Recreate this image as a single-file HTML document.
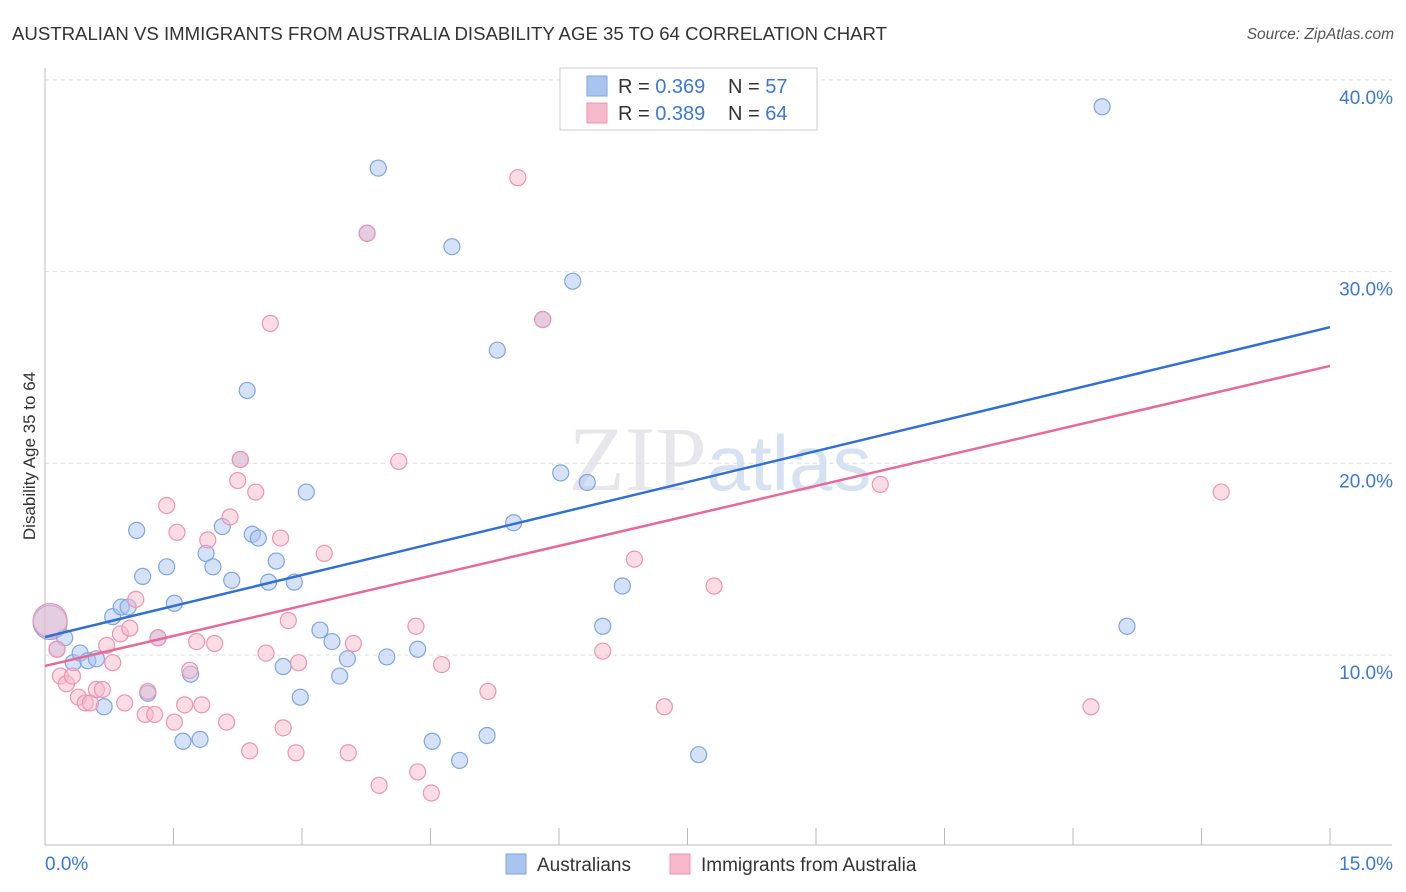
<!DOCTYPE html>
<html><head><meta charset="utf-8"><style>
body{margin:0;background:#fff;font-family:"Liberation Sans",sans-serif;}
#c{position:relative;width:1406px;height:892px;overflow:hidden}
</style></head><body>
<div id="c">
<svg id="s" width="1406" height="892" xmlns="http://www.w3.org/2000/svg">
<text x="12" y="40" font-size="18" fill="#333" textLength="875" lengthAdjust="spacingAndGlyphs">AUSTRALIAN VS IMMIGRANTS FROM AUSTRALIA DISABILITY AGE 35 TO 64 CORRELATION CHART</text>
<text x="1394" y="39" font-size="15.5" fill="#555" font-style="italic" text-anchor="end">Source: ZipAtlas.com</text>
<text x="35" y="456" font-size="17" fill="#333" text-anchor="middle" transform="rotate(-90 35 456)">Disability Age 35 to 64</text>
<text x="720" y="490" font-size="92" fill="#e6e6ec" font-family="Liberation Serif" text-anchor="middle">ZIP<tspan fill="#d6e2f2" font-family="Liberation Sans" font-size="78">atlas</tspan></text>
<g id="grid"></g><g id="axes"></g><g id="pts"></g><g id="lines"></g>
<g>
<rect x="560" y="68" width="257" height="62" fill="#fff" stroke="#ccc"/>
<rect x="587" y="76" width="20" height="20" fill="#a9c4ee" stroke="#7ea6e0"/>
<rect x="587" y="103" width="20" height="20" fill="#f6b9cc" stroke="#ee93b1"/>
<text x="618" y="93" font-size="20" fill="#333">R = <tspan fill="#3a78d8">0.369</tspan></text>
<text x="728" y="93" font-size="20" fill="#333">N = <tspan fill="#3a78d8">57</tspan></text>
<text x="618" y="120" font-size="20" fill="#333">R = <tspan fill="#3a78d8">0.389</tspan></text>
<text x="728" y="120" font-size="20" fill="#333">N = <tspan fill="#3a78d8">64</tspan></text>
</g>
<g>
<rect x="506" y="854" width="20" height="20" fill="#a9c4ee" stroke="#7ea6e0"/>
<text x="537" y="871" font-size="19" fill="#333">Australians</text>
<rect x="670" y="854" width="20" height="20" fill="#f6b9cc" stroke="#ee93b1"/>
<text x="701" y="871" font-size="19" fill="#333">Immigrants from Australia</text>
</g>
</svg>
</div>
<script>
const yTicks=[10,20,30,40];
const xTickLabels=["0.0%","15.0%"];
const blueX=[0.06,0.14,0.23,0.33,0.41,0.50,0.60,0.69,0.79,0.89,0.97,1.07,1.14,1.20,1.32,1.42,1.51,1.61,1.70,1.81,1.88,1.96,2.07,2.18,2.28,2.36,2.42,2.49,2.61,2.70,2.78,2.91,2.98,3.05,3.21,3.35,3.44,3.53,3.76,3.89,3.99,4.35,4.52,4.75,4.84,5.16,5.28,5.47,5.81,6.02,6.16,6.33,6.51,6.74,7.63,12.34,12.63];
const blueY=[11.7,10.3,10.9,9.6,10.1,9.7,9.8,7.3,12.0,12.5,12.5,16.5,14.1,8.0,10.9,14.6,12.7,5.5,9.0,5.6,15.3,14.6,16.7,13.9,20.2,23.8,16.3,16.1,13.8,14.9,9.4,13.8,7.8,18.5,11.3,10.7,8.9,9.8,32.0,35.4,9.9,10.3,5.5,31.3,4.5,5.8,25.9,16.9,27.5,19.5,29.5,19.0,11.5,13.6,4.8,38.6,11.5];
const pinkX=[0.06,0.14,0.18,0.25,0.32,0.39,0.47,0.53,0.60,0.67,0.72,0.79,0.88,0.93,0.99,1.06,1.17,1.20,1.28,1.32,1.42,1.51,1.54,1.63,1.69,1.77,1.83,1.90,1.98,2.12,2.16,2.25,2.28,2.39,2.46,2.58,2.63,2.75,2.78,2.84,2.93,2.96,3.26,3.54,3.60,3.76,3.90,4.13,4.33,4.35,4.51,4.63,5.17,5.52,5.81,6.15,6.51,6.88,7.23,7.81,9.75,12.21,13.73];
const pinkY=[11.8,10.3,8.9,8.5,8.9,7.8,7.5,7.5,8.2,8.2,10.5,9.6,11.1,7.5,11.4,12.9,6.9,8.1,6.9,10.9,17.8,6.5,16.4,7.4,9.2,10.7,7.4,16.0,10.6,6.5,17.2,19.1,20.2,5.0,18.5,10.1,27.3,16.1,6.2,11.8,4.9,9.6,15.3,4.9,10.6,32.0,3.2,20.1,11.5,3.9,2.8,9.5,8.1,34.9,27.5,40.0,10.2,15.0,7.3,13.6,18.9,7.3,18.5];
const blueTrend=[10.94,27.1];
const pinkTrend=[9.43,25.08];
const NS="http://www.w3.org/2000/svg";
const X=v=>45+v*85.667, Y=v=>655-(v-10)*19.17;
function mk(t,a,p){const e=document.createElementNS(NS,t);for(const k in a)e.setAttribute(k,a[k]);p.appendChild(e);return e;}
const grid=document.getElementById('grid'),axes=document.getElementById('axes'),pts=document.getElementById('pts'),lines=document.getElementById('lines');
yTicks.forEach(t=>{
 const l=mk('line',{x1:45,x2:1392,y1:Y(t),y2:Y(t),stroke:'#ddd','stroke-dasharray':'4 4'},grid);
 
 
 const tx=mk('text',{x:1393,y:Y(t)+24,'font-size':19,fill:'#3a78d8','text-anchor':'end'},axes);
 tx.textContent=t.toFixed(1)+'%';
 
 
});
mk('line',{x1:45,x2:45,y1:68,y2:845,stroke:'#bbb'},axes);
mk('line',{x1:45,x2:1392,y1:845,y2:845,stroke:'#bbb'},axes);
for(let i=0;i<=10;i++){const t=mk('line',{x1:X(i*1.5),x2:X(i*1.5),y1:828,y2:845,stroke:'#bbb'},axes);
 
 }
const a0=mk('text',{x:45,y:870,'font-size':19,fill:'#3a78d8'},axes);a0.textContent=xTickLabels[0];


const a1=mk('text',{x:1393,y:870,'font-size':19,fill:'#3a78d8','text-anchor':'end'},axes);a1.textContent=xTickLabels[1];


function series(xs,ys,fill,stroke,name){xs.forEach((x,i)=>{
 const c=mk('circle',{cx:X(x),cy:Y(ys[i]),r:i===0?17:8,fill:fill,'fill-opacity':0.5,stroke:stroke,'stroke-width':1.2},pts);
 
 });}
series(blueX,blueY,'#a9c4ee','#7ea6e0','australians-point');
series(pinkX,pinkY,'#f6b9cc','#ee93b1','immigrants-point');
const bl=mk('line',{x1:X(0),y1:Y(blueTrend[0]),x2:X(15),y2:Y(blueTrend[1]),stroke:'#2f6fd6','stroke-width':2.5},lines);


const pl=mk('line',{x1:X(0),y1:Y(pinkTrend[0]),x2:X(15),y2:Y(pinkTrend[1]),stroke:'#e8689a','stroke-width':2.5},lines);


</script>
</body></html>
